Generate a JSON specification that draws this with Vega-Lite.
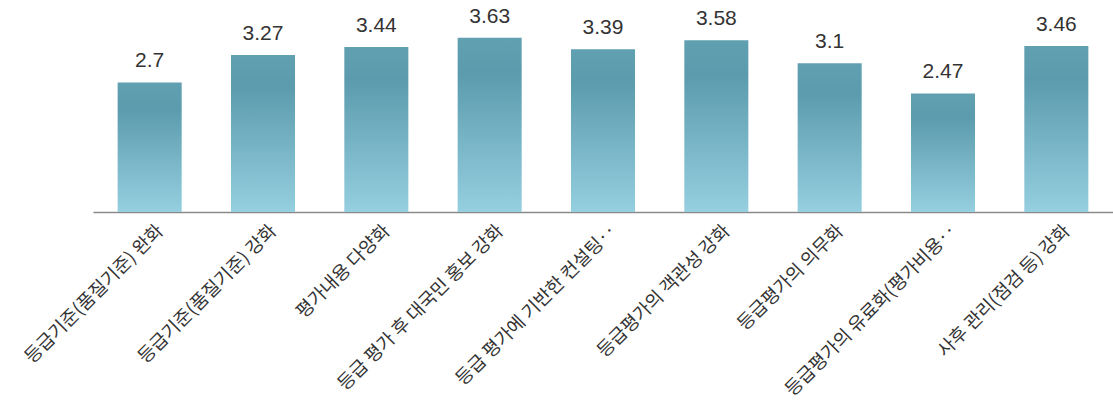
{
  "$schema": "https://vega.github.io/schema/vega-lite/v6.json",
  "width": 1020,
  "height": 192,
  "autosize": {"type": "none"},
  "padding": {"left": 93, "top": 20, "right": 0, "bottom": 195},
  "background": "white",
  "config": {"view": {"stroke": null}},
  "data": {"values": [
    {"item": "등급기준(품질기준) 완화", "value": 2.7},
    {"item": "등급기준(품질기준) 강화", "value": 3.27},
    {"item": "평가내용 다양화", "value": 3.44},
    {"item": "등급 평가 후 대국민 홍보 강화", "value": 3.63},
    {"item": "등급 평가에 기반한 컨설팅‥", "value": 3.39},
    {"item": "등급평가의 객관성 강화", "value": 3.58},
    {"item": "등급평가의 의무화", "value": 3.1},
    {"item": "등급평가의 유료화(평가비용‥", "value": 2.47},
    {"item": "사후 관리(점검 등) 강화", "value": 3.46}
  ]},
  "encoding": {
    "x": {"field": "item", "type": "nominal", "sort": null,
      "scale": {"paddingInner": 0.435, "paddingOuter": 0.2175},
      "axis": {"title": null, "labelAngle": -45, "labelFont": "Noto Sans CJK KR", "labelFontSize": 18.5, "labelColor": "#333333", "labelPadding": 9, "labelOffset": 4, "ticks": false, "domainColor": "#8a8a8a", "domainWidth": 1.5, "labelLimit": 400}},
    "y": {"field": "value", "type": "quantitative", "scale": {"domain": [0, 4]}, "axis": null}
  },
  "layer": [
    {"mark": {"type": "bar", "color": {"gradient": "linear", "x1": 0, "y1": 0, "x2": 0, "y2": 1, "stops": [{"offset": 0, "color": "#60a0b1"}, {"offset": 0.2, "color": "#5b9bad"}, {"offset": 1, "color": "#95cfe0"}]}}},
    {"mark": {"type": "text", "baseline": "alphabetic", "dy": -15, "font": "Liberation Sans", "fontSize": 21, "color": "#333333"}, "encoding": {"text": {"field": "value", "type": "quantitative"}}}
  ]
}
